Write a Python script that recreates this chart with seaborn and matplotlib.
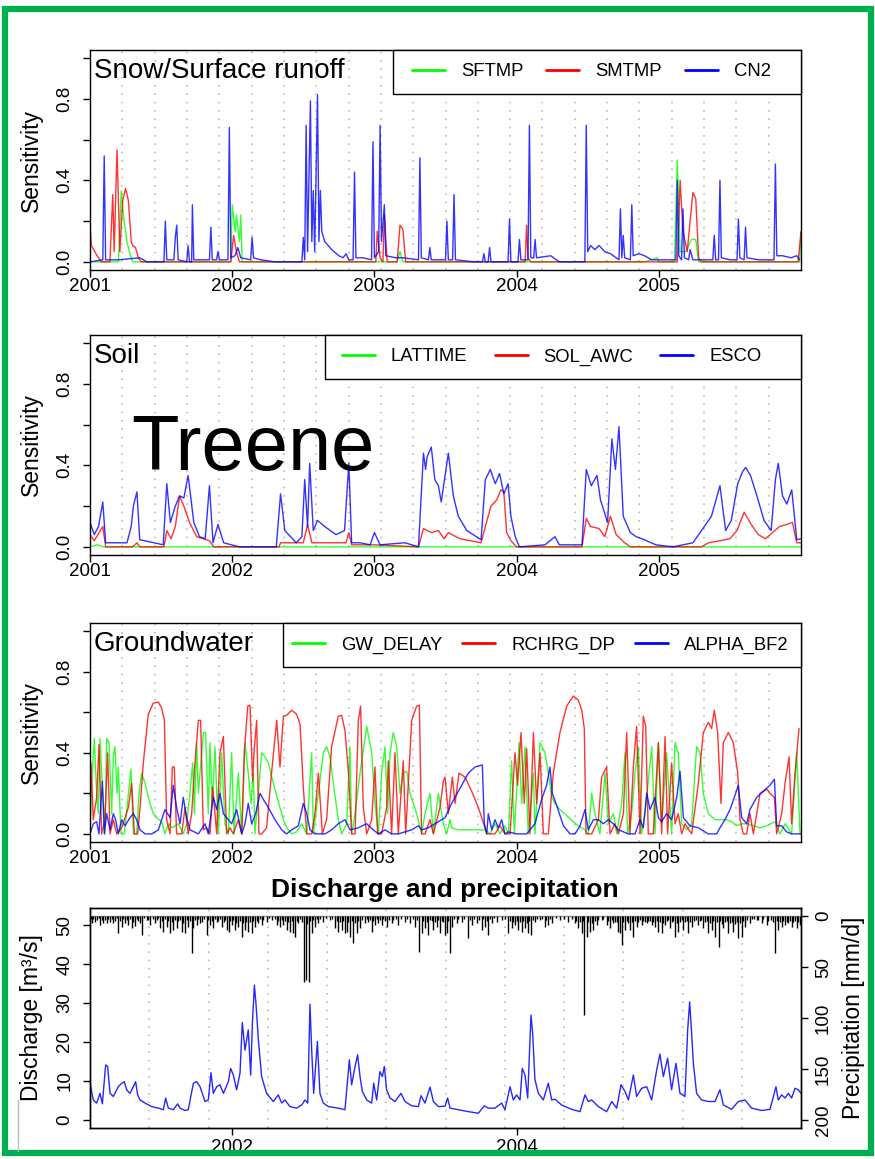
import numpy as np
import pandas as pd
import matplotlib
matplotlib.use("Agg")
import matplotlib.pyplot as plt
import seaborn as sns
from matplotlib.patches import Rectangle
from matplotlib.lines import Line2D

# ---------------- data (decimal years) ----------------
YEARS = [2001, 2002, 2003, 2004, 2005]
SENS_TICKS = [0.0, 0.2, 0.4, 0.6, 0.8, 1.0]
SENS_LABELS = ["0.0", "", "0.4", "", "0.8", ""]

SFTMP = [(2001.00,0.0),(2001.20,0.0),(2001.22,0.35),(2001.24,0.20),(2001.26,0.10),(2001.28,0.04),(2001.30,0.0),
         (2001.99,0.0),(2002.00,0.28),(2002.02,0.15),(2002.03,0.23),(2002.05,0.10),(2002.06,0.23),(2002.07,0.0),
         (2003.16,0.0),(2003.18,0.05),(2003.20,0.0),(2004.90,0.0),(2004.99,0.02),(2005.00,0.0),(2005.11,0.0),
         (2005.13,0.50),(2005.15,0.05),(2005.19,0.05),(2005.23,0.11),(2005.26,0.11),(2005.28,0.0),(2005.99,0.0),(2006.00,0.15)]
SMTMP = [(2001.00,0.18),(2001.01,0.08),(2001.05,0.03),(2001.08,0.0),(2001.14,0.0),(2001.16,0.33),(2001.17,0.05),
         (2001.19,0.55),(2001.21,0.05),(2001.23,0.30),(2001.25,0.36),(2001.27,0.30),(2001.29,0.10),(2001.30,0.08),
         (2001.32,0.07),(2001.34,0.02),(2001.36,0.0),(2001.99,0.0),(2002.01,0.13),(2002.03,0.05),(2002.05,0.0),
         (2003.01,0.0),(2003.02,0.15),(2003.04,0.02),(2003.06,0.0),(2003.07,0.23),(2003.09,0.0),(2003.16,0.0),
         (2003.18,0.18),(2003.20,0.16),(2003.22,0.0),(2004.06,0.0),(2004.07,0.18),(2004.08,0.02),(2004.10,0.0),
         (2005.13,0.0),(2005.15,0.40),(2005.17,0.15),(2005.20,0.05),(2005.22,0.20),(2005.24,0.34),(2005.26,0.31),
         (2005.28,0.02),(2005.30,0.0),(2005.98,0.0),(2006.00,0.15)]
CN2 = [(2001.00,0.0),(2001.09,0.01),(2001.10,0.52),(2001.11,0.01),(2001.20,0.01),(2001.35,0.02),(2001.40,0.0),
       (2001.52,0.0),(2001.53,0.20),(2001.54,0.01),(2001.59,0.01),(2001.60,0.12),(2001.61,0.18),(2001.62,0.01),
       (2001.68,0.0),(2001.69,0.08),(2001.70,0.0),(2001.715,0.0),(2001.72,0.28),(2001.73,0.01),(2001.84,0.01),
       (2001.85,0.17),(2001.86,0.01),(2001.89,0.01),(2001.90,0.05),(2001.91,0.01),(2001.97,0.01),(2001.98,0.66),
       (2001.99,0.02),(2002.02,0.03),(2002.04,0.07),(2002.06,0.02),(2002.13,0.01),(2002.14,0.12),(2002.15,0.02),
       (2002.20,0.01),(2002.30,0.0),(2002.49,0.0),(2002.50,0.12),(2002.51,0.01),(2002.52,0.67),(2002.53,0.05),
       (2002.55,0.79),(2002.56,0.10),(2002.57,0.35),(2002.58,0.05),(2002.60,0.82),(2002.61,0.10),(2002.62,0.35),
       (2002.63,0.15),(2002.65,0.10),(2002.70,0.06),(2002.75,0.03),(2002.78,0.02),(2002.80,0.04),(2002.82,0.01),
       (2002.85,0.01),(2002.86,0.44),(2002.87,0.02),(2002.92,0.02),(2002.98,0.01),(2002.99,0.59),(2003.00,0.02),
       (2003.03,0.05),(2003.04,0.67),(2003.05,0.10),(2003.07,0.28),(2003.08,0.03),(2003.15,0.02),(2003.20,0.02),
       (2003.31,0.01),(2003.32,0.51),(2003.33,0.02),(2003.38,0.01),(2003.39,0.07),(2003.40,0.01),(2003.50,0.01),
       (2003.51,0.20),(2003.52,0.01),(2003.55,0.01),(2003.56,0.33),(2003.57,0.01),(2003.70,0.0),(2003.76,0.0),
       (2003.77,0.04),(2003.78,0.0),(2003.80,0.0),(2003.81,0.07),(2003.82,0.0),(2003.94,0.0),(2003.95,0.21),
       (2003.96,0.0),(2004.01,0.0),(2004.02,0.11),(2004.03,0.01),(2004.08,0.01),(2004.09,0.67),(2004.10,0.02),
       (2004.12,0.02),(2004.13,0.11),(2004.14,0.02),(2004.24,0.03),(2004.30,0.0),(2004.48,0.0),(2004.49,0.67),
       (2004.50,0.05),(2004.52,0.08),(2004.55,0.06),(2004.58,0.08),(2004.62,0.05),(2004.66,0.04),(2004.70,0.02),
       (2004.72,0.01),(2004.73,0.26),(2004.74,0.02),(2004.75,0.13),(2004.76,0.02),(2004.80,0.01),(2004.81,0.28),
       (2004.82,0.03),(2004.86,0.04),(2004.90,0.03),(2004.95,0.01),(2005.05,0.01),(2005.12,0.01),(2005.13,0.40),
       (2005.14,0.03),(2005.16,0.01),(2005.17,0.26),(2005.18,0.02),(2005.21,0.01),(2005.22,0.06),(2005.24,0.01),
       (2005.30,0.01),(2005.38,0.01),(2005.39,0.13),(2005.40,0.01),(2005.42,0.01),(2005.43,0.40),(2005.44,0.02),
       (2005.50,0.01),(2005.55,0.01),(2005.56,0.21),(2005.57,0.02),(2005.60,0.01),(2005.61,0.17),(2005.62,0.02),
       (2005.70,0.01),(2005.81,0.01),(2005.82,0.48),(2005.83,0.03),(2005.87,0.03),(2005.93,0.02),(2005.97,0.03),
       (2005.99,0.01)]

LATTIME = [(2001.00,0.0),(2001.05,0.01),(2001.10,0.0),(2002.50,0.0),(2004.00,0.0),(2006.00,0.0)]
SOL_AWC = [(2001.00,0.06),(2001.03,0.03),(2001.09,0.10),(2001.11,0.0),(2001.30,0.0),(2001.33,0.02),(2001.35,0.0),
           (2001.52,0.0),(2001.54,0.08),(2001.57,0.04),(2001.60,0.10),(2001.63,0.25),(2001.66,0.20),(2001.70,0.12),
           (2001.75,0.05),(2001.84,0.03),(2001.87,0.0),(2002.33,0.0),(2002.34,0.02),(2002.50,0.02),(2002.53,0.11),
           (2002.56,0.02),(2002.80,0.02),(2002.82,0.07),(2002.84,0.01),(2003.00,0.01),(2003.31,0.0),(2003.345,0.09),
           (2003.40,0.07),(2003.45,0.08),(2003.49,0.04),(2003.52,0.07),(2003.60,0.04),(2003.75,0.02),(2003.78,0.10),
           (2003.82,0.20),(2003.86,0.23),(2003.89,0.28),(2003.91,0.27),(2003.93,0.07),(2003.96,0.03),(2004.00,0.0),
           (2004.46,0.0),(2004.49,0.14),(2004.52,0.10),(2004.58,0.09),(2004.62,0.05),(2004.66,0.15),(2004.70,0.06),
           (2004.76,0.02),(2004.80,0.0),(2005.30,0.0),(2005.35,0.02),(2005.43,0.03),(2005.50,0.04),(2005.55,0.08),
           (2005.60,0.17),(2005.65,0.11),(2005.70,0.06),(2005.75,0.04),(2005.80,0.07),(2005.85,0.10),(2005.90,0.11),
           (2005.94,0.12),(2005.97,0.02),(2006.00,0.02)]
ESCO = [(2001.00,0.12),(2001.03,0.06),(2001.06,0.10),(2001.09,0.22),(2001.11,0.02),(2001.16,0.02),(2001.26,0.02),
        (2001.29,0.10),(2001.305,0.20),(2001.33,0.27),(2001.35,0.035),(2001.45,0.02),(2001.515,0.01),(2001.54,0.31),
        (2001.565,0.12),(2001.60,0.20),(2001.63,0.25),(2001.66,0.24),(2001.69,0.35),(2001.73,0.12),(2001.77,0.05),
        (2001.81,0.04),(2001.84,0.30),(2001.865,0.02),(2001.90,0.11),(2001.94,0.02),(2002.05,0.0),(2002.31,0.0),
        (2002.34,0.26),(2002.37,0.08),(2002.45,0.02),(2002.49,0.05),(2002.51,0.33),(2002.53,0.10),(2002.545,0.41),
        (2002.57,0.08),(2002.60,0.13),(2002.65,0.10),(2002.73,0.06),(2002.79,0.08),(2002.82,0.41),(2002.84,0.02),
        (2002.90,0.02),(2002.97,0.01),(2003.00,0.07),(2003.04,0.01),(2003.215,0.02),(2003.31,0.0),(2003.345,0.46),
        (2003.36,0.38),(2003.37,0.44),(2003.40,0.49),(2003.425,0.33),(2003.45,0.30),(2003.47,0.22),(2003.52,0.46),
        (2003.555,0.25),(2003.59,0.15),(2003.65,0.08),(2003.75,0.035),(2003.78,0.33),(2003.815,0.38),(2003.85,0.31),
        (2003.88,0.36),(2003.91,0.26),(2003.94,0.31),(2003.96,0.15),(2003.99,0.05),(2004.02,0.0),(2004.20,0.01),
        (2004.27,0.05),(2004.30,0.01),(2004.46,0.01),(2004.49,0.38),(2004.525,0.30),(2004.565,0.35),(2004.59,0.23),
        (2004.64,0.12),(2004.67,0.53),(2004.695,0.38),(2004.72,0.59),(2004.75,0.15),(2004.80,0.07),(2004.84,0.05),
        (2004.88,0.04),(2004.98,0.01),(2005.10,0.0),(2005.24,0.02),(2005.32,0.10),(2005.37,0.15),(2005.43,0.30),
        (2005.47,0.08),(2005.51,0.13),(2005.555,0.31),(2005.59,0.37),(2005.61,0.39),(2005.645,0.35),(2005.69,0.25),
        (2005.74,0.13),(2005.79,0.08),(2005.82,0.33),(2005.84,0.41),(2005.87,0.25),(2005.90,0.21),(2005.935,0.28),
        (2005.97,0.035),(2006.00,0.04)]

GW_DELAY = [(2001.000,0.0),(2001.012,0.25),(2001.030,0.47),(2001.047,0.20),(2001.059,0.10),(2001.070,0.47),(2001.082,0.30),
            (2001.105,0.0),(2001.117,0.47),(2001.134,0.45),(2001.152,0.10),(2001.164,0.38),(2001.176,0.43),(2001.190,0.20),
            (2001.199,0.33),(2001.218,0.0),(2001.241,0.0),(2001.270,0.20),(2001.288,0.32),(2001.305,0.0),(2001.328,0.0),
            (2001.345,0.20),(2001.363,0.30),(2001.387,0.25),(2001.422,0.15),(2001.445,0.10),(2001.469,0.08),(2001.504,0.06),
            (2001.527,0.0),(2001.551,0.05),(2001.579,0.03),(2001.621,0.05),(2001.656,0.0),(2001.680,0.05),(2001.703,0.20),
            (2001.722,0.35),(2001.734,0.10),(2001.750,0.45),(2001.762,0.20),(2001.797,0.50),(2001.813,0.50),(2001.832,0.10),
            (2001.844,0.45),(2001.860,0.15),(2001.879,0.43),(2001.902,0.0),(2001.926,0.40),(2001.949,0.05),(2001.973,0.0),
            (2001.996,0.40),(2002.013,0.0),(2002.043,0.30),(2002.067,0.0),(2002.090,0.45),(2002.113,0.30),(2002.132,0.15),
            (2002.149,0.30),(2002.160,0.0),(2002.184,0.20),(2002.207,0.40),(2002.231,0.38),(2002.254,0.35),(2002.289,0.25),
            (2002.324,0.16),(2002.360,0.07),(2002.383,0.03),(2002.418,0.0),(2002.453,0.01),(2002.489,0.05),(2002.524,0.0),
            (2002.559,0.40),(2002.571,0.0),(2002.606,0.20),(2002.641,0.40),(2002.664,0.43),(2002.688,0.38),(2002.711,0.25),
            (2002.746,0.07),(2002.770,0.0),(2002.805,0.05),(2002.828,0.43),(2002.840,0.0),(2002.864,0.10),(2002.899,0.30),
            (2002.946,0.53),(2002.981,0.40),(2003.004,0.15),(2003.028,0.0),(2003.051,0.30),(2003.075,0.43),(2003.093,0.10),
            (2003.110,0.40),(2003.133,0.50),(2003.157,0.43),(2003.180,0.20),(2003.203,0.30),(2003.227,0.31),(2003.250,0.20),
            (2003.274,0.15),(2003.297,0.10),(2003.332,0.0),(2003.356,0.10),(2003.391,0.20),(2003.415,0.0),(2003.450,0.20),
            (2003.485,0.05),(2003.508,0.0),(2003.532,0.07),(2003.543,0.03),(2003.590,0.02),(2003.684,0.02),(2003.778,0.02),
            (2003.813,0.0),(2003.848,0.05),(2003.883,0.0),(2003.918,0.04),(2003.942,0.0),(2003.965,0.36),(2003.984,0.0),
            (2004.017,0.45),(2004.036,0.15),(2004.059,0.43),(2004.082,0.0),(2004.118,0.30),(2004.129,0.0),(2004.165,0.45),
            (2004.200,0.40),(2004.223,0.30),(2004.247,0.18),(2004.270,0.15),(2004.305,0.12),(2004.352,0.09),(2004.399,0.06),
            (2004.434,0.04),(2004.481,0.02),(2004.504,0.0),(2004.528,0.20),(2004.551,0.10),(2004.586,0.0),(2004.622,0.30),
            (2004.645,0.05),(2004.680,0.10),(2004.704,0.0),(2004.739,0.15),(2004.762,0.40),(2004.781,0.0),(2004.809,0.10),
            (2004.833,0.30),(2004.856,0.43),(2004.879,0.0),(2004.903,0.10),(2004.950,0.43),(2004.973,0.0),(2004.997,0.45),
            (2005.020,0.05),(2005.055,0.40),(2005.090,0.0),(2005.114,0.45),(2005.137,0.40),(2005.161,0.05),(2005.196,0.02),
            (2005.231,0.05),(2005.266,0.43),(2005.290,0.40),(2005.313,0.20),(2005.348,0.10),(2005.395,0.07),(2005.442,0.07),
            (2005.477,0.07),(2005.512,0.06),(2005.548,0.04),(2005.583,0.05),(2005.618,0.05),(2005.665,0.04),(2005.712,0.03),
            (2005.759,0.04),(2005.817,0.06),(2005.852,0.0),(2005.888,0.05),(2005.934,0.0),(2005.970,0.40),(2005.993,0.0)]
RCHRG_DP = [(2001.000,0.10),(2001.007,0.35),(2001.023,0.07),(2001.047,0.18),(2001.063,0.44),(2001.082,0.0),(2001.105,0.07),
            (2001.124,0.40),(2001.141,0.0),(2001.164,0.07),(2001.188,0.0),(2001.223,0.03),(2001.270,0.13),(2001.293,0.25),
            (2001.312,0.0),(2001.335,0.0),(2001.352,0.13),(2001.375,0.35),(2001.410,0.59),(2001.445,0.645),(2001.481,0.65),
            (2001.504,0.62),(2001.523,0.56),(2001.539,0.07),(2001.563,0.0),(2001.579,0.33),(2001.593,0.33),(2001.609,0.0),
            (2001.645,0.0),(2001.668,0.13),(2001.691,0.0),(2001.715,0.10),(2001.738,0.35),(2001.762,0.56),(2001.778,0.56),
            (2001.797,0.02),(2001.820,0.03),(2001.844,0.0),(2001.863,0.23),(2001.891,0.0),(2001.914,0.40),(2001.938,0.48),
            (2001.961,0.0),(2001.985,0.03),(2002.008,0.0),(2002.043,0.07),(2002.067,0.0),(2002.085,0.40),(2002.109,0.63),
            (2002.125,0.635),(2002.144,0.26),(2002.153,0.40),(2002.172,0.56),(2002.188,0.0),(2002.207,0.0),(2002.242,0.03),
            (2002.278,0.31),(2002.313,0.56),(2002.336,0.33),(2002.360,0.58),(2002.383,0.585),(2002.418,0.61),(2002.453,0.59),
            (2002.477,0.54),(2002.500,0.23),(2002.524,0.0),(2002.559,0.0),(2002.582,0.10),(2002.606,0.30),(2002.634,0.0),
            (2002.664,0.07),(2002.699,0.43),(2002.746,0.58),(2002.770,0.585),(2002.793,0.51),(2002.817,0.31),(2002.840,0.0),
            (2002.864,0.0),(2002.887,0.56),(2002.903,0.63),(2002.922,0.13),(2002.946,0.0),(2002.981,0.07),(2003.004,0.33),
            (2003.023,0.0),(2003.051,0.0),(2003.086,0.13),(2003.098,0.36),(2003.121,0.0),(2003.145,0.40),(2003.168,0.0),
            (2003.203,0.36),(2003.220,0.0),(2003.262,0.56),(2003.297,0.63),(2003.316,0.635),(2003.332,0.0),(2003.356,0.0),
            (2003.391,0.07),(2003.415,0.0),(2003.461,0.13),(2003.485,0.26),(2003.497,0.28),(2003.520,0.10),(2003.548,0.28),
            (2003.567,0.15),(2003.595,0.30),(2003.637,0.28),(2003.684,0.21),(2003.731,0.13),(2003.773,0.04),(2003.790,0.0),
            (2003.848,0.0),(2003.883,0.04),(2003.918,0.0),(2003.954,0.0),(2003.989,0.40),(2004.007,0.24),(2004.031,0.50),
            (2004.054,0.15),(2004.071,0.42),(2004.094,0.0),(2004.118,0.50),(2004.141,0.15),(2004.165,0.40),(2004.188,0.0),
            (2004.223,0.0),(2004.258,0.30),(2004.305,0.50),(2004.352,0.63),(2004.399,0.68),(2004.434,0.66),(2004.458,0.61),
            (2004.476,0.52),(2004.488,0.0),(2004.528,0.0),(2004.575,0.07),(2004.598,0.28),(2004.633,0.33),(2004.657,0.0),
            (2004.692,0.05),(2004.716,0.0),(2004.751,0.10),(2004.774,0.50),(2004.797,0.0),(2004.821,0.33),(2004.844,0.53),
            (2004.868,0.0),(2004.891,0.58),(2004.908,0.53),(2004.926,0.0),(2004.961,0.0),(2004.997,0.45),(2005.020,0.0),
            (2005.044,0.48),(2005.062,0.0),(2005.090,0.35),(2005.114,0.05),(2005.137,0.10),(2005.161,0.0),(2005.184,0.05),
            (2005.231,0.0),(2005.278,0.25),(2005.313,0.50),(2005.348,0.55),(2005.372,0.52),(2005.390,0.61),(2005.414,0.50),
            (2005.437,0.15),(2005.454,0.45),(2005.489,0.50),(2005.524,0.45),(2005.555,0.30),(2005.571,0.07),(2005.594,0.0),
            (2005.618,0.0),(2005.641,0.10),(2005.665,0.0),(2005.712,0.20),(2005.759,0.22),(2005.782,0.20),(2005.813,0.18),
            (2005.829,0.0),(2005.864,0.10),(2005.888,0.25),(2005.916,0.38),(2005.934,0.05),(2005.958,0.30),(2005.986,0.52)]
ALPHA_BF2 = [(2001.000,0.0),(2001.023,0.05),(2001.047,0.06),(2001.063,0.0),(2001.087,0.26),(2001.101,0.0),(2001.117,0.10),
             (2001.141,0.02),(2001.164,0.10),(2001.180,0.07),(2001.199,0.0),(2001.223,0.07),(2001.246,0.04),(2001.281,0.08),
             (2001.305,0.10),(2001.328,0.07),(2001.352,0.02),(2001.387,0.0),(2001.434,0.0),(2001.481,0.02),(2001.527,0.12),
             (2001.563,0.08),(2001.586,0.24),(2001.609,0.13),(2001.633,0.05),(2001.656,0.18),(2001.680,0.08),(2001.703,0.02),
             (2001.762,0.0),(2001.809,0.05),(2001.832,0.0),(2001.867,0.18),(2001.891,0.12),(2001.914,0.20),(2001.938,0.10),
             (2001.961,0.08),(2001.996,0.05),(2002.031,0.12),(2002.067,0.0),(2002.090,0.05),(2002.113,0.15),(2002.137,0.05),
             (2002.165,0.10),(2002.196,0.20),(2002.219,0.17),(2002.254,0.13),(2002.301,0.07),(2002.348,0.02),(2002.383,0.0),
             (2002.418,0.02),(2002.465,0.04),(2002.500,0.15),(2002.524,0.10),(2002.547,0.02),(2002.582,0.0),(2002.653,0.0),
             (2002.699,0.02),(2002.746,0.05),(2002.793,0.07),(2002.828,0.02),(2002.887,0.03),(2002.946,0.05),(2002.992,0.02),
             (2003.028,0.0),(2003.075,0.02),(2003.121,0.0),(2003.168,0.0),(2003.215,0.01),(2003.262,0.02),(2003.309,0.04),
             (2003.332,0.02),(2003.379,0.03),(2003.426,0.05),(2003.473,0.07),(2003.497,0.08),(2003.543,0.15),(2003.614,0.24),
             (2003.661,0.30),(2003.708,0.33),(2003.759,0.34),(2003.773,0.05),(2003.790,0.0),(2003.801,0.10),(2003.825,0.02),
             (2003.848,0.07),(2003.872,0.03),(2003.895,0.07),(2003.918,0.0),(2003.942,0.01),(2004.000,0.0),(2004.071,0.0),
             (2004.129,0.05),(2004.176,0.17),(2004.211,0.24),(2004.235,0.33),(2004.251,0.20),(2004.282,0.14),(2004.329,0.04),
             (2004.376,0.0),(2004.411,0.0),(2004.446,0.04),(2004.481,0.12),(2004.504,0.02),(2004.540,0.07),(2004.575,0.07),
             (2004.610,0.05),(2004.645,0.07),(2004.680,0.05),(2004.716,0.02),(2004.786,0.0),(2004.833,0.0),(2004.868,0.07),
             (2004.891,0.03),(2004.915,0.20),(2004.938,0.12),(2004.973,0.18),(2004.997,0.08),(2005.020,0.06),(2005.055,0.10),
             (2005.090,0.07),(2005.126,0.18),(2005.149,0.31),(2005.173,0.08),(2005.219,0.04),(2005.278,0.03),(2005.348,0.0),
             (2005.407,0.0),(2005.430,0.03),(2005.465,0.07),(2005.501,0.12),(2005.531,0.18),(2005.559,0.24),(2005.583,0.08),
             (2005.618,0.05),(2005.641,0.12),(2005.688,0.18),(2005.735,0.21),(2005.782,0.24),(2005.813,0.27),(2005.829,0.04),
             (2005.864,0.04),(2005.899,0.01),(2005.934,0.0),(2006.000,0.0)]

DISCHARGE = [(2001.000,9.4),(2001.023,5.1),(2001.047,4.3),(2001.070,6.8),(2001.087,4.1),(2001.110,14.1),(2001.124,13.7),
             (2001.141,6.8),(2001.164,6.0),(2001.199,8.5),(2001.223,9.4),(2001.241,9.8),(2001.258,7.7),(2001.281,6.8),
             (2001.305,8.5),(2001.321,9.8),(2001.335,6.4),(2001.352,5.1),(2001.387,4.3),(2001.434,3.4),(2001.481,3.0),
             (2001.516,2.6),(2001.532,5.6),(2001.551,3.0),(2001.586,2.6),(2001.616,4.1),(2001.633,3.0),(2001.668,2.4),
             (2001.691,2.6),(2001.727,9.4),(2001.750,9.8),(2001.774,8.5),(2001.809,4.7),(2001.832,5.1),(2001.851,12.1),
             (2001.867,6.8),(2001.891,8.5),(2001.914,9.0),(2001.938,6.8),(2001.973,9.8),(2001.989,13.2),(2002.008,11.5),
             (2002.031,7.7),(2002.055,12.0),(2002.071,25.0),(2002.090,17.9),(2002.113,23.1),(2002.130,11.5),(2002.142,24.8),
             (2002.156,34.6),(2002.167,29.9),(2002.184,20.5),(2002.207,11.1),(2002.242,6.8),(2002.289,4.7),(2002.324,6.4),
             (2002.348,4.3),(2002.371,5.1),(2002.406,3.4),(2002.453,3.0),(2002.489,3.8),(2002.512,5.1),(2002.531,4.3),
             (2002.547,29.7),(2002.559,17.9),(2002.573,6.8),(2002.599,20.1),(2002.617,6.8),(2002.641,4.3),(2002.676,3.4),
             (2002.746,3.0),(2002.793,2.6),(2002.824,15.4),(2002.840,9.0),(2002.864,13.7),(2002.882,16.7),(2002.899,11.1),
             (2002.915,7.3),(2002.946,5.1),(2002.981,4.3),(2002.995,9.4),(2003.016,5.1),(2003.039,12.4),(2003.056,11.1),
             (2003.070,13.7),(2003.086,7.7),(2003.110,5.6),(2003.145,4.7),(2003.187,6.8),(2003.215,4.7),(2003.262,3.6),
             (2003.309,3.4),(2003.328,6.2),(2003.356,4.3),(2003.391,8.4),(2003.415,4.7),(2003.450,3.4),(2003.497,3.5),
             (2003.515,5.6),(2003.532,3.0),(2003.590,2.6),(2003.661,2.1),(2003.731,1.7),(2003.773,3.6),(2003.801,3.0),
             (2003.848,3.0),(2003.895,4.3),(2003.918,2.6),(2003.954,8.5),(2003.977,5.1),(2004.000,6.4),(2004.024,5.1),
             (2004.040,13.2),(2004.059,11.5),(2004.078,5.6),(2004.101,26.9),(2004.113,22.2),(2004.129,10.3),(2004.153,6.8),
             (2004.188,5.1),(2004.223,9.4),(2004.247,5.1),(2004.270,5.3),(2004.317,3.8),(2004.387,2.7),(2004.446,2.1),
             (2004.481,6.4),(2004.504,4.7),(2004.528,5.1),(2004.575,3.4),(2004.633,2.1),(2004.669,4.7),(2004.704,3.0),
             (2004.734,9.0),(2004.762,7.3),(2004.786,5.1),(2004.821,11.5),(2004.844,6.0),(2004.879,8.1),(2004.915,8.5),
             (2004.950,5.1),(2004.985,12.8),(2005.008,16.9),(2005.032,11.1),(2005.062,15.8),(2005.090,7.7),(2005.121,14.5),
             (2005.149,6.8),(2005.184,6.0),(2005.203,23.1),(2005.217,30.3),(2005.231,22.2),(2005.243,14.5),(2005.266,6.8),
             (2005.301,5.1),(2005.348,4.7),(2005.395,4.7),(2005.430,7.7),(2005.454,3.8),(2005.512,2.7),(2005.559,4.7),
             (2005.606,5.1),(2005.653,3.0),(2005.723,2.4),(2005.782,2.7),(2005.824,8.5),(2005.840,5.1),(2005.864,6.4),
             (2005.888,5.6),(2005.911,6.8),(2005.934,5.6),(2005.958,8.1),(2005.981,7.7),(2006.000,6.8)]

PRECIP = [(2001.012,7.2),(2001.035,5.6),(2001.070,8.8),(2001.094,7.2),(2001.117,6.5),(2001.141,5.6),(2001.164,7.2),
          (2001.199,17.0),(2001.223,10.5),(2001.246,7.2),(2001.270,8.8),(2001.293,12.1),(2001.316,9.8),(2001.352,7.2),
          (2001.368,18.6),(2001.398,3.9),(2001.422,8.8),(2001.457,6.5),(2001.492,12.1),(2001.516,15.4),(2001.539,10.5),
          (2001.563,17.0),(2001.586,13.7),(2001.609,12.1),(2001.645,15.4),(2001.668,17.0),(2001.691,10.5),(2001.715,36.6),
          (2001.727,12.1),(2001.750,8.8),(2001.774,7.2),(2001.820,18.6),(2001.844,8.8),(2001.867,12.1),(2001.891,5.6),
          (2001.926,10.5),(2001.961,13.7),(2001.977,15.4),(2001.996,8.8),(2002.020,13.7),(2002.043,10.5),(2002.067,20.3),
          (2002.090,13.7),(2002.113,15.4),(2002.137,17.0),(2002.160,10.5),(2002.184,7.2),(2002.207,8.8),(2002.242,5.6),
          (2002.278,3.9),(2002.313,8.8),(2002.336,10.5),(2002.360,8.8),(2002.383,13.7),(2002.407,15.4),(2002.430,17.0),
          (2002.442,20.3),(2002.465,7.2),(2002.505,64.4),(2002.517,62.7),(2002.540,65.0),(2002.559,17.0),(2002.582,10.5),
          (2002.606,7.2),(2002.641,5.6),(2002.688,3.9),(2002.723,12.1),(2002.746,15.4),(2002.770,13.7),(2002.793,17.0),
          (2002.805,15.4),(2002.828,20.3),(2002.852,26.8),(2002.875,17.0),(2002.899,12.1),(2002.934,7.2),(2002.957,5.6),
          (2002.981,15.4),(2003.004,8.8),(2003.028,7.2),(2003.051,8.8),(2003.086,10.5),(2003.121,6.5),(2003.168,8.8),
          (2003.215,5.6),(2003.250,7.2),(2003.285,10.5),(2003.316,35.0),(2003.332,17.0),(2003.356,12.1),(2003.379,18.6),
          (2003.415,13.7),(2003.438,10.5),(2003.461,17.0),(2003.497,18.6),(2003.508,17.0),(2003.532,36.6),(2003.548,10.5),
          (2003.579,7.2),(2003.614,5.6),(2003.656,21.9),(2003.684,8.8),(2003.719,7.2),(2003.754,13.7),(2003.778,10.5),
          (2003.801,18.6),(2003.825,7.2),(2003.860,5.6),(2003.895,3.9),(2003.942,17.0),(2003.965,12.1),(2003.989,8.8),
          (2004.012,13.7),(2004.036,15.4),(2004.059,12.1),(2004.082,17.0),(2004.101,18.6),(2004.129,5.6),(2004.165,3.9),
          (2004.200,10.5),(2004.223,8.8),(2004.247,7.2),(2004.305,3.9),(2004.364,5.6),(2004.411,7.2),(2004.434,12.1),
          (2004.458,17.0),(2004.476,97.1),(2004.493,20.3),(2004.516,15.4),(2004.540,13.7),(2004.563,8.8),(2004.598,3.9),
          (2004.633,8.8),(2004.657,12.1),(2004.680,7.2),(2004.716,15.4),(2004.727,17.0),(2004.739,28.4),(2004.762,13.7),
          (2004.797,13.7),(2004.821,20.3),(2004.844,10.5),(2004.879,8.8),(2004.915,7.2),(2004.950,8.8),(2004.973,10.5),
          (2004.997,15.4),(2005.020,17.0),(2005.044,8.8),(2005.079,12.1),(2005.114,20.3),(2005.137,15.4),(2005.173,13.7),
          (2005.208,17.0),(2005.231,10.5),(2005.278,8.8),(2005.313,12.1),(2005.348,17.0),(2005.372,13.7),(2005.395,20.3),
          (2005.423,30.1),(2005.454,12.1),(2005.489,17.0),(2005.524,15.4),(2005.559,21.9),(2005.583,20.3),(2005.606,10.5),
          (2005.641,7.2),(2005.688,3.9),(2005.723,7.2),(2005.759,8.8),(2005.817,36.6),(2005.840,13.7),(2005.864,10.5),
          (2005.888,8.8),(2005.911,7.2),(2005.934,10.5),(2005.970,12.1),(2005.993,8.8)]
# the dense fringe of small daily amounts along the top
PRECIP_LIGHT = [(2001.004,3),(2001.024,2.5),(2001.05,4),(2001.06,2),(2001.082,3.5),(2001.105,4),(2001.13,2.5),(2001.152,3),
                (2001.176,4.5),(2001.19,2),(2001.211,5),(2001.235,3),(2001.258,4),(2001.282,2.5),(2001.305,6),(2001.33,3),
                (2001.34,4.5),(2001.38,2),(2001.41,3.5),(2001.44,2.5),(2001.47,4),(2001.48,2),(2001.505,5),(2001.527,3),
                (2001.55,4.5),(2001.575,6),(2001.598,3.5),(2001.62,5),(2001.633,4),(2001.656,6.5),(2001.68,4),(2001.703,5),
                (2001.738,4),(2001.762,3),(2001.786,5.5),(2001.80,3),(2001.832,4),(2001.855,5),(2001.88,3),(2001.903,4.5),
                (2001.915,2.5),(2001.94,6),(2001.95,3.5),(2001.986,5),(2002.008,4),(2002.03,6.5),(2002.055,5),(2002.078,7),
                (2002.10,5.5),(2002.125,6),(2002.148,4.5),(2002.172,5),(2002.195,3),(2002.22,4),(2002.26,2),(2002.30,3),
                (2002.325,4.5),(2002.348,3.5),(2002.372,5),(2002.395,6),(2002.418,4.5),(2002.453,5),(2002.48,3),(2002.49,6),
                (2002.528,8),(2002.55,5),(2002.57,4),(2002.595,3),(2002.62,2.5),(2002.66,2),(2002.70,3),(2002.735,5),
                (2002.758,6),(2002.78,4.5),(2002.815,6),(2002.84,5),(2002.863,7),(2002.887,5),(2002.91,3.5),(2002.945,3),
                (2002.97,4),(2002.99,5),(2003.016,3),(2003.04,4),(2003.063,3),(2003.075,5),(2003.10,3.5),(2003.133,4),
                (2003.15,2.5),(2003.19,3),(2003.23,2.5),(2003.27,3),(2003.30,4),(2003.344,5),(2003.368,6),(2003.39,4),
                (2003.403,5),(2003.426,6),(2003.45,4),(2003.473,5),(2003.485,6),(2003.52,5),(2003.56,3),(2003.59,2.5),
                (2003.63,3),(2003.67,4),(2003.70,2.5),(2003.735,4),(2003.765,3),(2003.79,5),(2003.81,3),(2003.84,2),
                (2003.92,2.5),(2003.952,5),(2003.977,6),(2004.0,4.5),(2004.024,6),(2004.047,5),(2004.07,6.5),(2004.09,5),
                (2004.115,4),(2004.14,3),(2004.18,3),(2004.21,4),(2004.235,3),(2004.28,2),(2004.33,2.5),(2004.39,3),
                (2004.42,4.5),(2004.446,6),(2004.468,5),(2004.505,6),(2004.528,7),(2004.55,5),(2004.575,4),(2004.61,3),
                (2004.645,5),(2004.668,4),(2004.69,5.5),(2004.704,6),(2004.75,6),(2004.774,5),(2004.786,7),(2004.81,6),
                (2004.832,5),(2004.856,6),(2004.868,4),(2004.89,5),(2004.903,6),(2004.926,4.5),(2004.94,5),(2004.962,6),
                (2004.985,5),(2005.008,6),(2005.032,7),(2005.055,5),(2005.067,4),(2005.09,6),(2005.102,5),(2005.125,7),
                (2005.15,5.5),(2005.16,4),(2005.185,6),(2005.196,5),(2005.22,6),(2005.245,5),(2005.26,4),(2005.29,5),
                (2005.30,4),(2005.325,6),(2005.337,5),(2005.36,7),(2005.384,5),(2005.407,6),(2005.43,5),(2005.442,8),
                (2005.466,6),(2005.478,5),(2005.50,7),(2005.512,6),(2005.536,8),(2005.548,6),(2005.571,7),(2005.595,5),
                (2005.618,4),(2005.653,3),(2005.67,2.5),(2005.70,4),(2005.735,3),(2005.77,5),(2005.79,4),(2005.805,6),
                (2005.828,5),(2005.852,6),(2005.876,5),(2005.90,6),(2005.923,5),(2005.946,6),(2005.958,4.5),(2005.982,6),
                (2005.998,4)]

Q_TICKS = [0, 10, 20, 30, 40, 50]
P_TICKS = [0, 50, 100, 150, 200]

# ---------------- style ----------------
sns.set_theme(style="white")
plt.rcParams["font.family"] = ["Liberation Sans", "DejaVu Sans"]
plt.rcParams.update({
    "axes.edgecolor": "black", "axes.linewidth": 1.0, "text.color": "black",
    "axes.labelcolor": "black", "xtick.color": "black", "ytick.color": "black",
    "xtick.labelcolor": "black", "ytick.labelcolor": "black",
})

GREEN, RED, BLUE = "#00FF00", "#FF0000", "#0000FF"
W, H = 875, 1159
AX_L, AX_R = 90, 801
TICK_FS = 13.5
LEG_FS = 13.3
LEG_EM = LEG_FS * 100 / 72.0


def frame(pairs):
    t, v = zip(*pairs)
    return pd.DataFrame({"t": t, "v": v})


fig = plt.figure(figsize=(W / 100, H / 100), dpi=100)


def px_axes(top, bottom):
    ax = fig.add_axes([AX_L / W, 1 - bottom / H, (AX_R - AX_L) / W, (bottom - top) / H])
    ax._px_h = bottom - top
    return ax


def xfrac(px):
    return (px - AX_L) / (AX_R - AX_L)


def style_sens(ax, title, series, cols, box_left, handle_left, colspace_px):
    for (name, data), c in zip(series, cols):
        sns.lineplot(data=frame(data), x="t", y="v", ax=ax, color=c, lw=1.0, alpha=0.8,
                     estimator=None, sort=False, label=name)
    ax.set_xlim(2001, 2006)
    ax.set_ylim(-0.04, 1.04)
    ax.set_xticks(YEARS)
    ax.set_xticklabels([str(y) for y in YEARS])
    ax.set_xticks(np.linspace(2001, 2006, 23)[1:-1], minor=True)
    ax.grid(True, which="minor", axis="x", color="#BBBBBB", linestyle=(0, (1, 4)), lw=1.2)
    ax.grid(False, which="major")
    ax.set_yticks(SENS_TICKS)
    ax.set_yticklabels(SENS_LABELS)
    ax.tick_params(axis="x", which="major", direction="out", length=5, width=1, pad=1, labelsize=TICK_FS)
    ax.tick_params(axis="x", which="minor", length=0)
    ax.tick_params(axis="y", direction="out", length=5, width=1, pad=7, labelsize=TICK_FS, labelrotation=90)
    for lab in ax.get_yticklabels():
        lab.set_va("center")
    ax.tick_params(left=True, bottom=True)
    ax.set_xlabel("")
    ax.set_ylabel("Sensitivity", fontsize=16.5)
    ax.yaxis.set_label_coords(-0.066, 0.5)
    ax.text(0.005, 0.872, title, transform=ax.transAxes, fontsize=20, va="baseline", ha="left")
    # legend: white box flush with the top-right corner, entries placed inside it
    hb = 44 / ax._px_h
    ax.add_patch(Rectangle((xfrac(box_left), 1 - hb), 1 - xfrac(box_left), hb, transform=ax.transAxes,
                           facecolor="white", edgecolor="black", lw=1.0, zorder=4, clip_on=False))
    leg = ax.legend(loc="center left", bbox_to_anchor=(xfrac(handle_left), 1 - hb / 2), ncol=3, frameon=False,
                    borderaxespad=0, borderpad=0, fontsize=LEG_FS, handlelength=33 / LEG_EM,
                    handletextpad=16 / LEG_EM, columnspacing=colspace_px / LEG_EM)
    leg.set_zorder(5)
    for ln in leg.get_lines():
        ln.set_linewidth(2.0)
        ln.set_alpha(1.0)


ax1 = px_axes(50, 270)
style_sens(ax1, "Snow/Surface runoff", [("SFTMP", SFTMP), ("SMTMP", SMTMP), ("CN2", CN2)], [GREEN, RED, BLUE],
           393, 412, 23)
ax2s = px_axes(335, 555)
style_sens(ax2s, "Soil", [("LATTIME", LATTIME), ("SOL_AWC", SOL_AWC), ("ESCO", ESCO)], [GREEN, RED, BLUE],
           325, 342, 27)
ax3 = px_axes(623, 842)
style_sens(ax3, "Groundwater", [("GW_DELAY", GW_DELAY), ("RCHRG_DP", RCHRG_DP), ("ALPHA_BF2", ALPHA_BF2)],
           [GREEN, RED, BLUE], 283, 292, 20)

# ---------------- discharge & precipitation ----------------
ax4 = px_axes(908, 1128)
sns.lineplot(data=frame(DISCHARGE), x="t", y="v", ax=ax4, color=BLUE, lw=1.0, alpha=0.85,
             estimator=None, sort=False)
ax4.set_xlim(2001, 2006)
ax4.set_ylim(-2.1, 54.4)
ax4.set_xticks([2002, 2004])
ax4.set_xticklabels(["2002", "2004"])
ax4.set_xticks(np.linspace(2001, 2006, 13)[1:-1], minor=True)
ax4.grid(True, which="minor", axis="x", color="#BBBBBB", linestyle=(0, (1, 4)), lw=1.2)
ax4.grid(False, which="major")
ax4.set_yticks(Q_TICKS)
ax4.tick_params(axis="x", which="major", direction="out", length=5, width=1, pad=3, labelsize=TICK_FS)
ax4.tick_params(axis="x", which="minor", length=0)
ax4.tick_params(axis="y", direction="out", length=5, width=1, pad=7, labelsize=TICK_FS, labelrotation=90)
for lab in ax4.get_yticklabels():
    lab.set_va("center")
ax4.tick_params(left=True, bottom=True)
ax4.set_xlabel("")
ax4.set_ylabel("Discharge [m³/s]", fontsize=16.5)
ax4.yaxis.set_label_coords(-0.066, 0.5)

axp = ax4.twinx()
for series in (PRECIP_LIGHT, PRECIP):
    pt, pv = zip(*series)
    axp.vlines(pt, 0, pv, color="black", lw=1.0)
axp.axhline(0, color="#999999", lw=1.0, zorder=0)
axp.set_ylim(208, -8)
axp.set_xlim(2001, 2006)
axp.set_yticks(P_TICKS)
axp.tick_params(axis="y", direction="out", length=5, width=1, pad=5, labelsize=TICK_FS, labelrotation=90, right=True)
for lab in axp.get_yticklabels():
    lab.set_va("center")
axp.set_ylabel("Precipitation [mm/d]", fontsize=16.5, rotation=90)
axp.yaxis.set_label_coords(1.057, 0.5)
axp.grid(False)

fig.text(445 / W, 1 - 897 / H, "Discharge and precipitation", fontsize=19, fontweight="bold",
         ha="center", va="baseline")

# big label
fig.text(131 / W, 1 - 470 / H, "Treene", fontsize=56, ha="left", va="baseline")

# green frame and small artefact line
fig.add_artist(Rectangle((5 / W, 1 - 1153 / H), (871 - 5) / W, (1153 - 9) / H, transform=fig.transFigure,
                         fill=False, edgecolor="#00B050", lw=4.5))
fig.add_artist(Line2D([18 / W, 18 / W], [1 - 1100 / H, 1 - 1151 / H], transform=fig.transFigure,
                      color="#BBBBBB", lw=1))

fig.savefig("out.png", dpi=100)
